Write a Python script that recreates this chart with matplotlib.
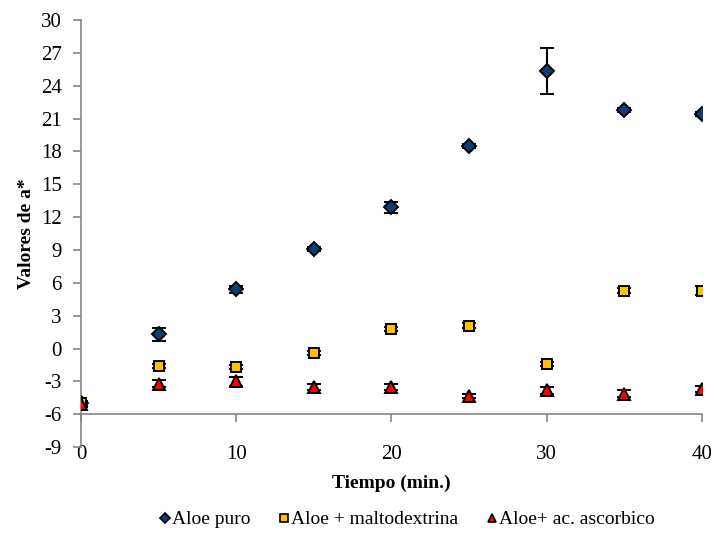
import matplotlib.pyplot as plt
from matplotlib.lines import Line2D
import numpy as np

plt.rcParams['font.family'] = ['Liberation Serif', 'DejaVu Serif']
plt.rcParams['axes.unicode_minus'] = False

tiempo = [0, 5, 10, 15, 20, 25, 30, 35, 40]

aloe_puro = [-5.0, 1.3, 5.4, 9.1, 12.9, 18.5, 25.3, 21.8, 21.4]
aloe_puro_err = [0.2, 0.6, 0.3, 0.2, 0.5, 0.2, 2.1, 0.2, 0.2]

aloe_malto = [-5.0, -1.6, -1.7, -0.4, 1.8, 2.1, -1.4, 5.3, 5.3]
aloe_malto_err = [0.2, 0.2, 0.2, 0.2, 0.2, 0.2, 0.2, 0.2, 0.4]

aloe_asc = [-5.1, -3.2, -3.0, -3.5, -3.5, -4.3, -3.8, -4.1, -3.7]
aloe_asc_err = [0.2, 0.3, 0.4, 0.3, 0.3, 0.2, 0.3, 0.3, 0.3]

fig = plt.figure(figsize=(7.17, 5.33), dpi=100)
ax = fig.add_axes([0.113, 0.161, 0.866, 0.8015])

estilos = [
    (aloe_puro, aloe_puro_err, 'D', '#0F3F70', 7, 'Aloe puro'),
    (aloe_malto, aloe_malto_err, 's', '#FFC000', 7, 'Aloe + maltodextrina'),
    (aloe_asc, aloe_asc_err, '^', '#FF0000', 8, 'Aloe+ ac. ascorbico'),
]
handles = []
for vals, err, mk, col, ms, lab in estilos:
    ax.errorbar(tiempo, vals, yerr=err, fmt=mk, color=col,
                markeredgecolor='black', markeredgewidth=1.4, markersize=ms,
                ecolor='black', elinewidth=1.5, capsize=5, capthick=1.5,
                zorder=3)
    handles.append(Line2D([], [], linestyle='none', marker=mk, color=col,
                          markeredgecolor='black', markeredgewidth=1.2,
                          markersize=5.5, label=lab))

ax.set_xlim(0, 40)
ax.set_ylim(-9, 30)
ax.set_xticks(np.arange(0, 41, 10))
ax.set_yticks(np.arange(-9, 31, 3))

ax.spines['top'].set_visible(False)
ax.spines['right'].set_visible(False)
ax.spines['bottom'].set_position(('data', -6))
for s in ['left', 'bottom']:
    ax.spines[s].set_color('#868686')
    ax.spines[s].set_linewidth(1.2)
ax.tick_params(axis='both', colors='#868686', labelcolor='black',
               labelsize=15, length=6, width=1.2)
ax.tick_params(axis='x', pad=16)
ax.tick_params(axis='y', pad=8)

ax.set_xlabel('Tiempo (min.)', fontsize=14, fontweight='bold', labelpad=8)
ax.set_ylabel('Valores de a*', fontsize=14, fontweight='bold', labelpad=4)

fig.legend(handles=handles, loc='center', bbox_to_anchor=(0.568, 0.025),
           ncol=3, frameon=False, fontsize=14, handlelength=0.5,
           handletextpad=0.1, columnspacing=1.5, borderpad=0)

plt.savefig('out.png', dpi=100)
